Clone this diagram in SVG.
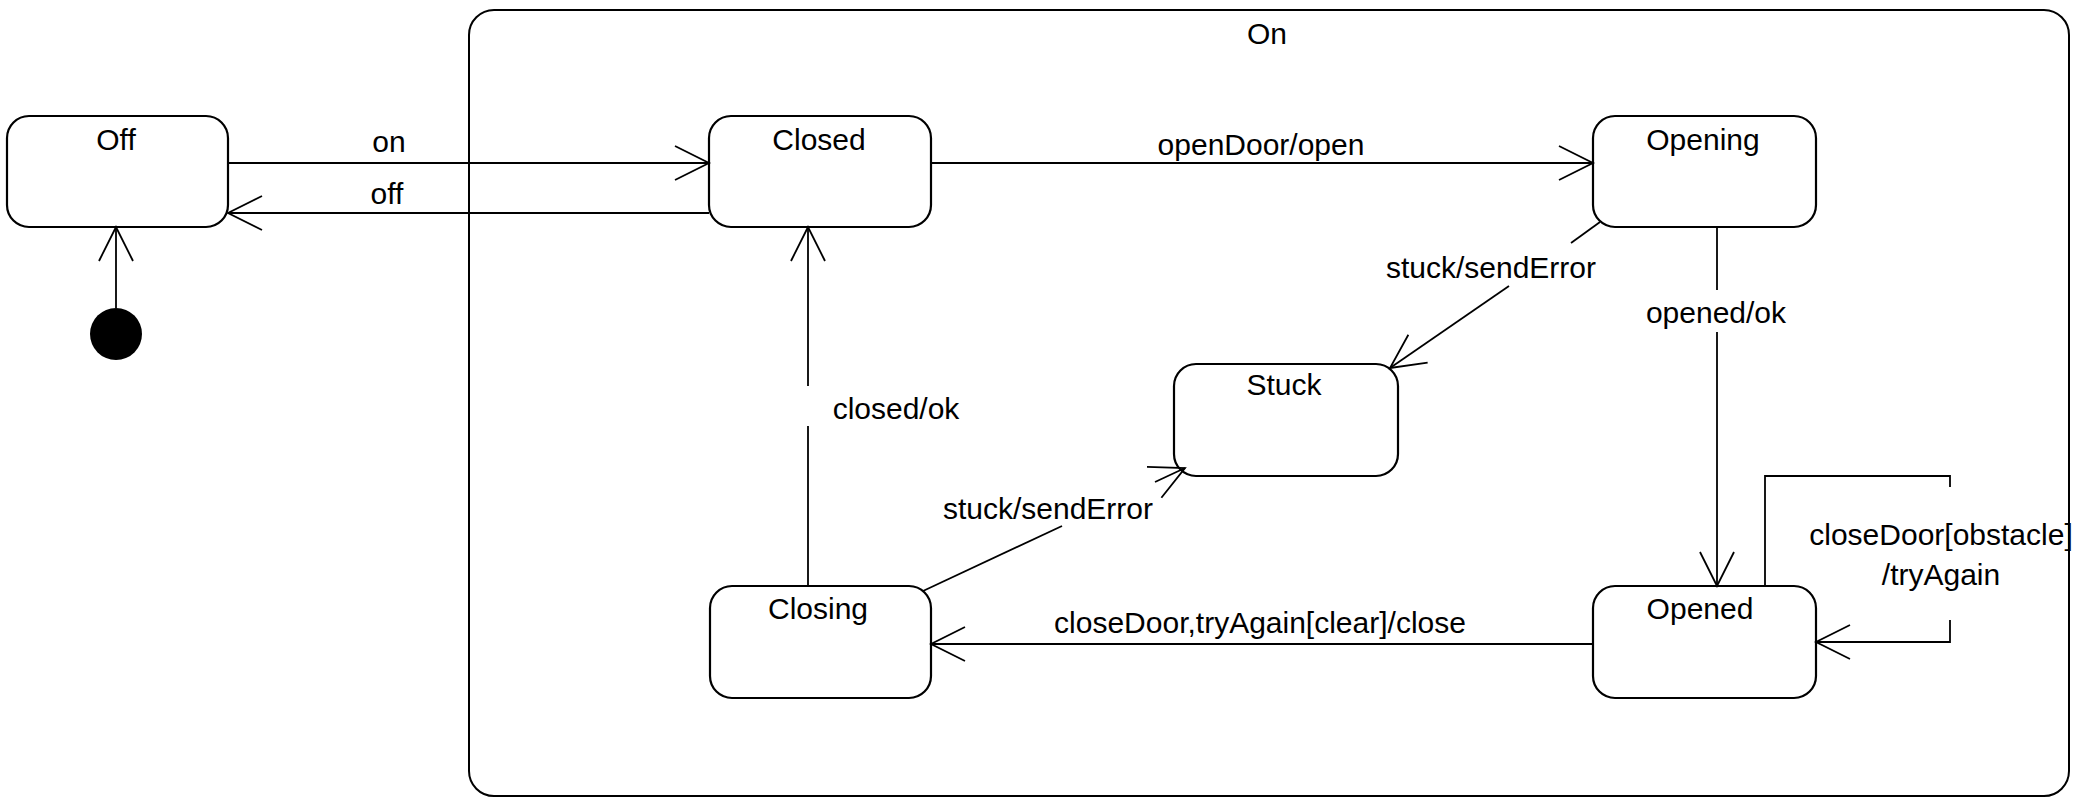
<svg xmlns="http://www.w3.org/2000/svg" width="2079" height="798" viewBox="0 0 2079 798">
<style>
.box{fill:#fff;stroke:#000;stroke-width:2.2}
.cont{fill:none;stroke:#000;stroke-width:2}
.ln{fill:none;stroke:#000;stroke-width:1.8}
.t{font-family:"Liberation Sans",Arial,sans-serif;font-size:30px;fill:#000;text-anchor:middle}
</style>
<defs>
<marker id="arr" markerUnits="userSpaceOnUse" viewBox="-38 -20 40 40" refX="0" refY="0" markerWidth="40" markerHeight="40" orient="auto" overflow="visible">
<path d="M-34,-17 L0,0 L-34,17" fill="none" stroke="#000" stroke-width="1.8"/>
</marker>
</defs>
<rect width="2079" height="798" fill="#fff"/>
<g id="On">
<rect class="cont" x="469" y="10" width="1600" height="786" rx="25"/>
<text class="t" x="1267" y="44">On</text>
</g>
<g id="initial">
<circle cx="116" cy="334" r="26" fill="#000"/>
</g>
<g id="Off">
<rect class="box" x="7" y="116" width="221" height="111" rx="22"/>
<text class="t" x="116" y="150">Off</text>
</g>
<g id="Closed">
<rect class="box" x="709" y="116" width="222" height="111" rx="22"/>
<text class="t" x="819" y="150">Closed</text>
</g>
<g id="Opening">
<rect class="box" x="1593" y="116" width="223" height="111" rx="22"/>
<text class="t" x="1703" y="150">Opening</text>
</g>
<g id="Stuck">
<rect class="box" x="1174" y="364" width="224" height="112" rx="22"/>
<text class="t" x="1284" y="395">Stuck</text>
</g>
<g id="Closing">
<rect class="box" x="710" y="586" width="221" height="112" rx="22"/>
<text class="t" x="818" y="619">Closing</text>
</g>
<g id="Opened">
<rect class="box" x="1593" y="586" width="223" height="112" rx="22"/>
<text class="t" x="1700" y="619">Opened</text>
</g>
<g id="connectors">
<line class="ln" x1="116" y1="308" x2="116" y2="227" marker-end="url(#arr)"/>
<line class="ln" x1="228" y1="163" x2="709" y2="163" marker-end="url(#arr)"/>
<line class="ln" x1="709" y1="213" x2="228" y2="213" marker-end="url(#arr)"/>
<line class="ln" x1="931" y1="163" x2="1593" y2="163" marker-end="url(#arr)"/>
<line class="ln" x1="1600" y1="222" x2="1571" y2="243"/>
<line class="ln" x1="1509" y1="286" x2="1390" y2="368" marker-end="url(#arr)"/>
<line class="ln" x1="1717" y1="227" x2="1717" y2="290"/>
<line class="ln" x1="1717" y1="332" x2="1717" y2="586" marker-end="url(#arr)"/>
<polyline class="ln" points="1765,586 1765,476 1950,476 1950,487"/>
<polyline class="ln" points="1950,620 1950,642 1816,642" marker-end="url(#arr)"/>
<line class="ln" x1="1593" y1="644" x2="931" y2="644" marker-end="url(#arr)"/>
<line class="ln" x1="808" y1="586" x2="808" y2="426"/>
<line class="ln" x1="808" y1="386" x2="808" y2="227" marker-end="url(#arr)"/>
<line class="ln" x1="923" y1="591" x2="1062" y2="526"/>
<line class="ln" x1="1155" y1="482" x2="1185" y2="468" marker-end="url(#arr)"/>
</g>
<g id="labels">
<text class="t" x="389" y="152">on</text>
<text class="t" x="387" y="204">off</text>
<text class="t" x="1261" y="155">openDoor/open</text>
<text class="t" x="1491" y="278">stuck/sendError</text>
<text class="t" x="1716" y="323">opened/ok</text>
<text class="t" x="896" y="419">closed/ok</text>
<text class="t" x="1048" y="519">stuck/sendError</text>
<text class="t" x="1260" y="633">closeDoor,tryAgain[clear]/close</text>
<text class="t" x="1941" y="545">closeDoor[obstacle]</text>
<text class="t" x="1941" y="585">/tryAgain</text>
</g>
</svg>
